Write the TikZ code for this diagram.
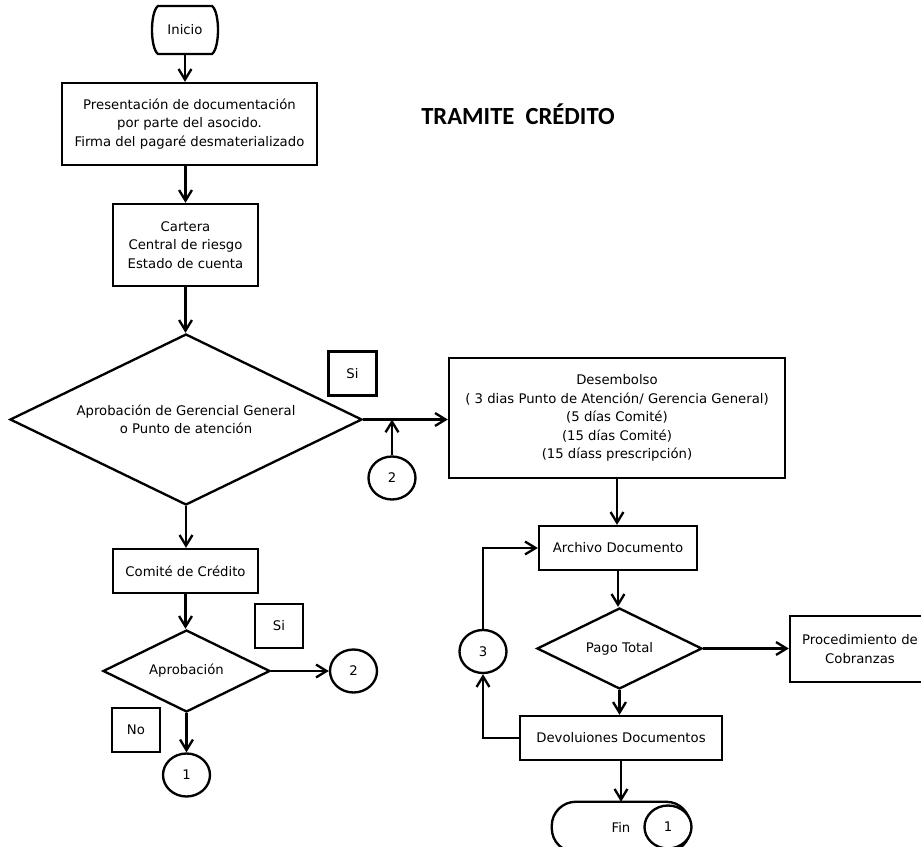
\documentclass[tikz,border=0pt]{standalone}
\usepackage{fontspec}
\setmainfont{DejaVu Sans}
\newfontfamily\titlefont{Carlito}
\usepackage{tikz}
\usetikzlibrary{shapes.geometric}
\usetikzlibrary{arrows.meta}
\newcommand{\chartfont}{\fontsize{11.3}{15.7}\selectfont}
\tikzset{
boxnodev1/.style={rectangle, draw=black!100,fill=white,line width=2pt, inner sep=0pt, align=center, font=\chartfont},
diamondnodev1/.style={diamond, draw=black!100,fill=white,line width=2pt, inner sep=0pt, shape aspect=2, align=center, font=\chartfont},
circlenodev1/.style={ellipse, draw=black!100,fill=white,line width=2pt, inner sep=0pt, minimum width= 1.41cm, minimum height = 1.29cm, font=\chartfont},
labelnodev1/.style={rectangle, draw=black!100,fill=white,line width=2pt, inner sep=0pt, minimum width= 1.44cm, minimum height = 1.32cm, font=\chartfont},
terminalnodev1/.style={rectangle, draw=none, inner sep=0pt, font=\chartfont},
arrowv1/.style={line width=2pt, -{Straight Barb[length=9pt,width=11pt]}},
}

\begin{document}
\begin{tikzpicture}[x=0.03cm,y=-0.03cm]
        \useasboundingbox (0,0) rectangle (921,847);

        \node[font=\titlefont\fontsize{21}{25}\bfseries\selectfont] at (518,114) (title) {TRAMITE\ \ CRÉDITO};

        % left column
        \node[terminalnodev1, minimum width=1.98cm, minimum height=1.44cm] at (185,30) (ini) {Inicio};
        \draw[line width=2pt] (158,6) -- (212,6) .. controls (220,12) and (220,48) .. (212,54) -- (158,54) .. controls (150,48) and (150,12) .. (158,6) -- cycle;
        \node[boxnodev1, minimum width=7.65cm, minimum height=2.46cm] at (189.5,124) (pres) {Presentación de documentación\\por parte del asocido.\\Firma del pagaré desmaterializado};
        \node[boxnodev1, minimum width=4.35cm, minimum height=2.46cm] at (185.5,245) (cart) {Cartera\\Central de riesgo\\Estado de cuenta};
        \node[diamondnodev1, minimum width=10.56cm, minimum height=5.13cm] at (186,419.5) (apg) {Aprobación de Gerencial General\\o Punto de atención};
        \node[labelnodev1] at (352.5,373.5) (si1) {Si};
        \node[circlenodev1] at (392,478) (cdos1) {2};
        \node[boxnodev1, minimum width=4.35cm, minimum height=1.32cm] at (185.5,571) (com) {Comité de Crédito};
        \node[diamondnodev1, minimum width=5.01cm, minimum height=2.46cm] at (186.5,671) (apc) {Aprobación};
        \node[labelnodev1] at (279,626) (si2) {Si};
        \node[circlenodev1] at (353.5,671) (cdos2) {2};
        \node[labelnodev1] at (136,730) (no) {No};
        \node[circlenodev1] at (186.5,775) (cuno1) {1};

        % right column
        \node[boxnodev1, minimum width=10.08cm, minimum height=3.6cm] at (617,418) (des) {Desembolso\\( 3 dias Punto de Atención/ Gerencia General)\\(5 días Comité)\\(15 días Comité)\\(15 díass prescripción)};
        \node[boxnodev1, minimum width=4.74cm, minimum height=1.32cm] at (618,548) (arch) {Archivo Documento};
        \node[diamondnodev1, minimum width=4.95cm, minimum height=2.43cm] at (619.5,648.5) (pago) {Pago Total};
        \node[boxnodev1, minimum width=4.2cm, minimum height=1.98cm] at (860,649) (proc) {Procedimiento de\\Cobranzas};
        \node[boxnodev1, minimum width=6.06cm, minimum height=1.32cm] at (621,738) (devol) {Devoluiones Documentos};
        \node[circlenodev1] at (483,651.5) (ctres) {3};
        \node[terminalnodev1, minimum width=4.14cm, minimum height=1.5cm] at (621,827) (fin) {Fin};
        \draw[line width=2pt, rounded corners=0.72cm] (fin.north west) rectangle (fin.south east);
        \node[circlenodev1] at (668,827) (cuno2) {1};

        \draw[arrowv1] (ini) -- (ini |- pres.north);
        \draw[arrowv1] (pres.south -| cart) -- (cart);
        \draw[arrowv1] (cart) -- (cart |- apg.north);
        \draw[arrowv1] (apg) -- (apg |- com.north);
        \draw[arrowv1] (com) -- (com |- apc.north);
        \draw[arrowv1] (apc.south) -- (cuno1);
        \draw[arrowv1] (apg.east) -- (apg.east -| des.west);
        \draw[arrowv1] (cdos1) -- (cdos1 |- apg.east);
        \draw[arrowv1] (apc.east) -- (cdos2);
        \draw[arrowv1] (des) -- (des |- arch.north);
        \draw[arrowv1] (arch) -- (arch |- pago.north);
        \draw[arrowv1] (pago) -- (pago |- devol.north);
        \draw[arrowv1] (devol) -- (devol |- fin.north);
        \draw[arrowv1] (pago.east) -- (pago.east -| proc.west);
        \draw[arrowv1] (devol.west) -| (ctres.south);
        \draw[arrowv1] (ctres.north) |- (arch.west);
    \end{tikzpicture}
\end{document}
